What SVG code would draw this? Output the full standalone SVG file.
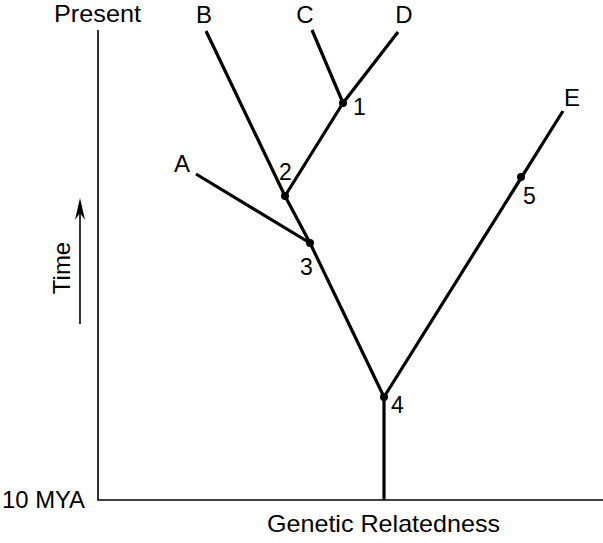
<svg xmlns="http://www.w3.org/2000/svg" width="603" height="543" viewBox="0 0 603 543">
<style>
text{font-family:"Liberation Sans",Arial,sans-serif;fill:#000}
.lbl{font-size:24px}
.num{font-size:23px}
.axis{stroke:#000;stroke-width:1.6;fill:none}
.br{stroke:#000;stroke-width:3.2;fill:none;stroke-linecap:butt}
.dot{fill:#000}
</style>
<rect width="603" height="543" fill="#fff"/>
<g id="axes">
<path class="axis" d="M98,30 V500 H603"/>
<line x1="80" y1="324" x2="80" y2="210" stroke="#000" stroke-width="1.6"/>
<path d="M80,198 L85,220 L80,213 L75,220 Z" fill="#000"/>
<text class="lbl" x="54" y="22" textLength="87" lengthAdjust="spacingAndGlyphs">Present</text>
<text class="lbl" x="2" y="508" textLength="83" lengthAdjust="spacingAndGlyphs">10 MYA</text>
<text class="lbl" x="267" y="532" textLength="233" lengthAdjust="spacingAndGlyphs">Genetic Relatedness</text>
<text class="lbl" transform="translate(70,268) rotate(-90)" text-anchor="middle">Time</text>
</g>
<g id="connectors">
<line class="br" x1="384" y1="500" x2="384" y2="397"/>
<line class="br" x1="384" y1="397" x2="310" y2="243"/>
<line class="br" x1="384" y1="397" x2="563" y2="111"/>
<line class="br" x1="310" y1="243" x2="196" y2="174"/>
<line class="br" x1="310" y1="243" x2="285" y2="196"/>
<line class="br" x1="285" y1="196" x2="206" y2="31"/>
<line class="br" x1="285" y1="196" x2="343" y2="103"/>
<line class="br" x1="343" y1="103" x2="312" y2="30"/>
<line class="br" x1="343" y1="103" x2="398" y2="32"/>
</g>
<g id="node1"><circle class="dot" cx="343" cy="103" r="4"/><text class="num" x="353" y="115">1</text></g>
<g id="node2"><circle class="dot" cx="285" cy="196" r="4"/><text class="num" x="279" y="180">2</text></g>
<g id="node3"><circle class="dot" cx="310" cy="243" r="4"/><text class="num" x="300" y="275">3</text></g>
<g id="node4"><circle class="dot" cx="384" cy="397" r="4"/><text class="num" x="391" y="413">4</text></g>
<g id="node5"><circle class="dot" cx="521" cy="177" r="4"/><text class="num" x="523" y="204">5</text></g>
<g id="leafA"><text class="lbl" x="182" y="172" text-anchor="middle">A</text></g>
<g id="leafB"><text class="lbl" x="204" y="23" text-anchor="middle">B</text></g>
<g id="leafC"><text class="lbl" x="305" y="23" text-anchor="middle">C</text></g>
<g id="leafD"><text class="lbl" x="404" y="23" text-anchor="middle">D</text></g>
<g id="leafE"><text class="lbl" x="572" y="106" text-anchor="middle">E</text></g>
</svg>
